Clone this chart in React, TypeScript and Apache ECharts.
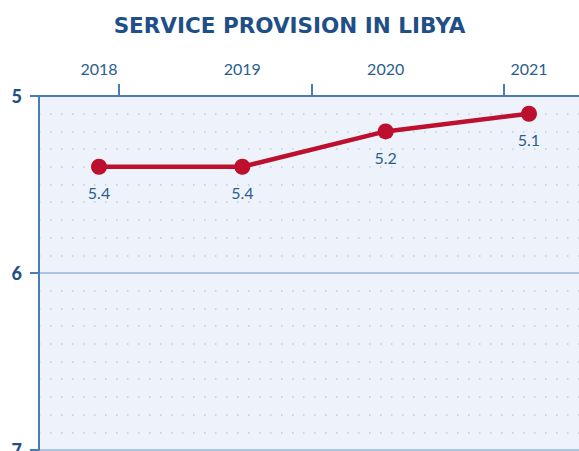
import React, { useEffect, useRef } from "react";
import * as echarts from "echarts";

const years: string[] = ["2018", "2019", "2020", "2021"];
const scores: number[] = [5.4, 5.4, 5.2, 5.1];
const yTicks: number[] = [5, 6, 7];
const titleText = "SERVICE PROVISION IN LIBYA";

const NAVY = "#1f4f87";
const AXIS = "#4a7db3";
const RED = "#bd0f2e";
const LABEL = "#2a5d8f";

export default function App() {
  const ref = useRef<HTMLDivElement>(null);
  useEffect(() => {
    if (!ref.current) return;
    const chart = echarts.init(ref.current, undefined, { renderer: "svg" });
    const unit = 143.33;
    const x0 = 99;
    const left = 39;
    const xMin = -(x0 - left) / unit;
    const xMax = (579 - x0) / unit;
    chart.setOption({
      animation: false,
      backgroundColor: "#ffffff",
      title: {
        text: titleText,
        left: "center",
        top: 9,
        textStyle: {
          fontFamily: "DejaVu Sans",
          fontWeight: "bold",
          fontSize: 21.5,
          color: NAVY,
        },
      },
      grid: {
        left: left,
        top: 96,
        right: 0,
        bottom: 1,
        show: true,
        backgroundColor: "#eef3fb",
        borderWidth: 0,
        containLabel: false,
        outerBoundsMode: "none",
      },
      xAxis: {
        type: "value",
        position: "top",
        min: xMin,
        max: xMax,
        axisLine: { show: true, onZero: false, lineStyle: { color: AXIS, width: 2 } },
        axisTick: {
          show: true,
          length: 12,
          lineStyle: { color: AXIS, width: 2 },
          customValues: [0.14, 1.486, 2.826],
        },
        axisLabel: {
          customValues: years.map((_, i) => i),
          formatter: (v: number) => years[Math.round(v)] ?? "",
          color: LABEL,
          fontFamily: "Lato",
          fontSize: 16,
          margin: 20,
        },
        splitLine: { show: false },
      },
      yAxis: {
        type: "value",
        inverse: true,
        min: yTicks[0],
        max: yTicks[yTicks.length - 1],
        interval: 1,
        axisLine: { show: true, onZero: false, lineStyle: { color: AXIS, width: 2 } },
        axisTick: { show: true, length: 9, lineStyle: { color: AXIS, width: 2 } },
        axisLabel: {
          color: NAVY,
          fontFamily: "Lato",
          fontWeight: 900,
          fontSize: 18,
          margin: 17,
        },
        splitLine: {
          show: true,
          lineStyle: { color: "#a9c6e5", width: 2 },
        },
        minorTick: { show: false, splitNumber: 10 },
        minorSplitLine: {
          show: true,
          lineStyle: { color: "#c3ccd8", width: 1.5, type: [1.5, 9.5] },
        },
      },
      series: [
        {
          type: "line",
          data: years.map((_, i) => [i, scores[i]]),
          symbol: "circle",
          symbolSize: 16,
          lineStyle: { color: RED, width: 4.5 },
          itemStyle: { color: RED },
          label: {
            show: true,
            position: "bottom",
            distance: 10,
            formatter: (p: any) => String(p.value[1]),
            color: LABEL,
            fontFamily: "Lato",
            fontSize: 16,
          },
        },
      ],
    });
    return () => chart.dispose();
  }, []);
  return (
    <div
      ref={ref}
      style={{ position: "fixed", left: 0, top: 0, width: 579, height: 451 }}
    />
  );
}
